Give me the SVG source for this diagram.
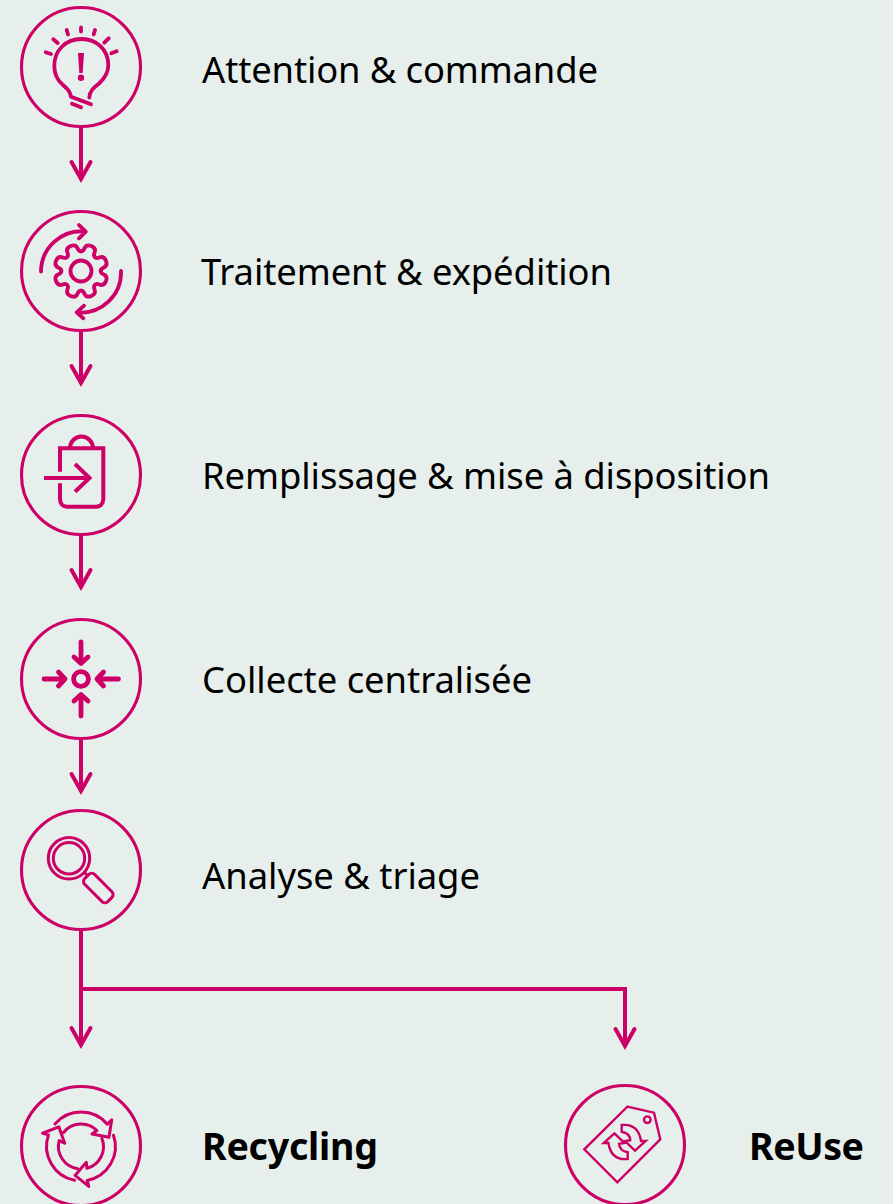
<svg xmlns="http://www.w3.org/2000/svg" width="893" height="1204" viewBox="0 0 893 1204">
<style>
.ring{fill:none;stroke:#cc0066;stroke-width:3.1}
.ic{fill:none;stroke:#cc0066;stroke-width:3;stroke-linecap:round;stroke-linejoin:round}
.th{stroke-width:3.8}
.conn{fill:none;stroke:#cc0066;stroke-width:4;stroke-linejoin:miter}
.lb{font-family:"Noto Sans","Open Sans",sans-serif;font-size:36.4px;fill:#000}
.b{font-weight:700;font-size:37.6px}
</style>
<defs>
<marker id="ah" markerUnits="userSpaceOnUse" viewBox="-26 -16 32 32" refX="0" refY="0" markerWidth="32" markerHeight="32" orient="auto">
<path d="M-18 -9.500L-1 0L-18 9.500" fill="none" stroke="#cc0066" stroke-width="4" stroke-linecap="round"/>
</marker>
</defs>
<rect width="893" height="1204" fill="#e7efec"/>
<g id="connectors" class="conn">
<path d="M81 127V180" marker-end="url(#ah)"/>
<path d="M81 331V384" marker-end="url(#ah)"/>
<path d="M81 535V588" marker-end="url(#ah)"/>
<path d="M81 739V792" marker-end="url(#ah)"/>
<path d="M81 928V1046" marker-end="url(#ah)"/>
<path d="M81 989H625V1047" marker-end="url(#ah)"/>
</g>
<g id="n1">
<circle class="ring" cx="81" cy="67" r="59.500"/>
<path class="ic th" d="M71 96.700C70 91 67 88.500 63 85C57 80 54.300 74 54.300 66C54.300 50 66 39 81.500 39C97 39 108.300 50 108.300 65C108.300 74 104 79 99 83.500C94 87.500 89.500 91 89.300 97.500M71 96.700L91 104.300M72 103.700L81 107.300"/>
<path class="ic th" d="M45.700 52.300L51 54M53.300 39.300L57.700 43M66.700 30L68 34.500M81 27.500V31.500M95 30L93.700 34.500M108.700 38.300L104.300 42.700M116.700 51.300L111.300 53.300"/>
<path d="M78 53H84L82.700 73H79.300Z" fill="#cc0066"/>
<circle cx="81" cy="77.700" r="3.200" fill="#cc0066"/>
<text class="lb" x="202" y="83" textLength="396">Attention &amp; commande</text>
</g>
<g id="n2">
<circle class="ring" cx="81" cy="271" r="59.500"/>
<g class="ic th" transform="translate(81 271)">
<path d="M-7.500 -18.200Q-5.500 -18.800 -5.500 -22Q-5.500 -27 0 -27Q5.500 -27 5.500 -22Q5.500 -18.800 7.500 -18.200" transform="rotate(22.500)"/>
<path d="M-7.500 -18.200Q-5.500 -18.800 -5.500 -22Q-5.500 -27 0 -27Q5.500 -27 5.500 -22Q5.500 -18.800 7.500 -18.200" transform="rotate(67.500)"/>
<path d="M-7.500 -18.200Q-5.500 -18.800 -5.500 -22Q-5.500 -27 0 -27Q5.500 -27 5.500 -22Q5.500 -18.800 7.500 -18.200" transform="rotate(112.500)"/>
<path d="M-7.500 -18.200Q-5.500 -18.800 -5.500 -22Q-5.500 -27 0 -27Q5.500 -27 5.500 -22Q5.500 -18.800 7.500 -18.200" transform="rotate(157.500)"/>
<path d="M-7.500 -18.200Q-5.500 -18.800 -5.500 -22Q-5.500 -27 0 -27Q5.500 -27 5.500 -22Q5.500 -18.800 7.500 -18.200" transform="rotate(202.500)"/>
<path d="M-7.500 -18.200Q-5.500 -18.800 -5.500 -22Q-5.500 -27 0 -27Q5.500 -27 5.500 -22Q5.500 -18.800 7.500 -18.200" transform="rotate(247.500)"/>
<path d="M-7.500 -18.200Q-5.500 -18.800 -5.500 -22Q-5.500 -27 0 -27Q5.500 -27 5.500 -22Q5.500 -18.800 7.500 -18.200" transform="rotate(292.500)"/>
<path d="M-7.500 -18.200Q-5.500 -18.800 -5.500 -22Q-5.500 -27 0 -27Q5.500 -27 5.500 -22Q5.500 -18.800 7.500 -18.200" transform="rotate(337.500)"/>
<circle r="10.500"/>
</g>
<path class="ic th" d="M41 271.500A40.500 40.500 0 0 1 85.500 231.500M79 225L85.700 231.700L79 238.300M121 271A40 40 0 0 1 77 312.300M84 305.700L76.700 312.300L83.300 318.300"/>
<text class="lb" x="201" y="285" textLength="411">Traitement &amp; expédition</text>
</g>
<g id="n3">
<circle class="ring" cx="81" cy="475" r="59.500"/>
<path class="ic" style="stroke-width:4;stroke-linecap:butt;stroke-linejoin:miter" d="M70 448.300A11.500 11.700 0 0 1 93 448.300M60 471.700V448.300H103.300V499C103.300 504 100 506.700 96 506.700H67C63 506.700 60 504 60 499V483.300M44 478H89M75 464L89.500 478L75 491.700"/>
<text class="lb" x="202" y="489" textLength="568">Remplissage &amp; mise à disposition</text>
</g>
<g id="n4">
<circle class="ring" cx="81" cy="679" r="59.500"/>
<g class="ic" style="stroke-width:4.800">
<circle cx="81" cy="679" r="7.400"/>
<path d="M81 642V663M74 657L81 663.500L88 657M44 679H65M58.500 672L65 679L58.500 686M118.500 679H97M103.500 672L97 679L103.500 686M81 716V695M74 701L81 694.500L88 701"/>
</g>
<text class="lb" x="202" y="693" textLength="330">Collecte centralisée</text>
</g>
<g id="n5">
<circle class="ring" cx="81" cy="870" r="59.500"/>
<g class="ic">
<circle cx="69" cy="858.300" r="20.700"/>
<circle cx="69" cy="858.300" r="15.700"/>
<rect x="82" y="881" width="32.600" height="14" rx="4" transform="rotate(45 98.300 888)"/>
<path d="M85 873L87 875"/>
</g>
<text class="lb" x="202" y="889" textLength="278">Analyse &amp; triage</text>
</g>
<g id="n6">
<circle class="ring" cx="81" cy="1146" r="59.500"/>
<g class="ic" transform="translate(81 1146.500)">
<path d="M-26 -22.500A34.500 34.500 0 0 1 26.300 -22.300L30.700 -26.700L28 -9.300L11 -12.500L16 -16A22.500 22.500 0 0 0 -17.500 -14"/>
<path transform="rotate(120)" d="M-26 -22.500A34.500 34.500 0 0 1 26.300 -22.300L30.700 -26.700L28 -9.300L11 -12.500L16 -16A22.500 22.500 0 0 0 -17.500 -14"/>
<path transform="rotate(240)" d="M-26 -22.500A34.500 34.500 0 0 1 26.300 -22.300L30.700 -26.700L28 -9.300L11 -12.500L16 -16A22.500 22.500 0 0 0 -17.500 -14"/>
</g>
<text class="lb b" x="202" y="1160" textLength="176">Recycling</text>
</g>
<g id="n7">
<circle class="ring" cx="625" cy="1145" r="59.500"/>
<g class="ic" style="stroke-width:2.400;stroke-linejoin:miter">
<path d="M627.300 1106.700L654 1112.700L660.300 1139.300L617.300 1182.300L584.300 1149.300Z"/>
<circle cx="647.300" cy="1119.700" r="3.300"/>
<path d="M621.700 1125Q638.300 1123.300 641 1141H645.700L635 1150.700L625 1141L630.300 1140.300Q630 1133.300 621.700 1131.700Z"/>
<path transform="rotate(180 624.700 1142)" d="M621.700 1125Q638.300 1123.300 641 1141H645.700L635 1150.700L625 1141L630.300 1140.300Q630 1133.300 621.700 1131.700Z"/>
</g>
<text class="lb b" x="749" y="1160" textLength="115">ReUse</text>
</g>
</svg>
